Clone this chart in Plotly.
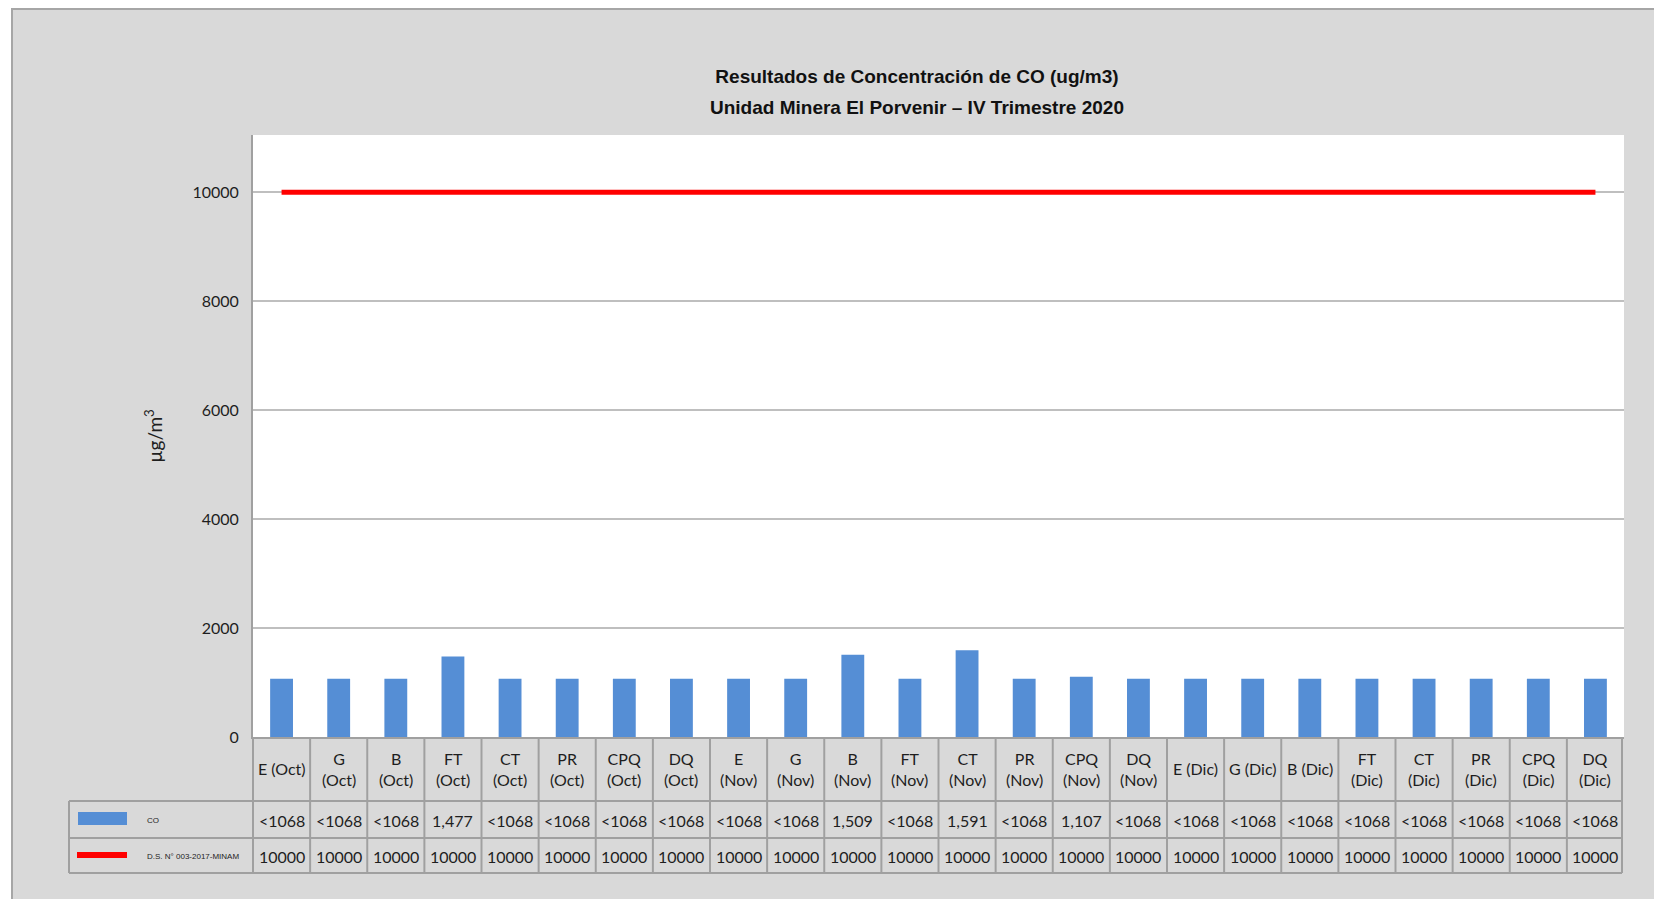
import plotly.graph_objects as go

# ---------------- data ----------------
categories = ["E (Oct)", "G (Oct)", "B (Oct)", "FT (Oct)", "CT (Oct)", "PR (Oct)", "CPQ (Oct)", "DQ (Oct)",
              "E (Nov)", "G (Nov)", "B (Nov)", "FT (Nov)", "CT (Nov)", "PR (Nov)", "CPQ (Nov)", "DQ (Nov)",
              "E (Dic)", "G (Dic)", "B (Dic)", "FT (Dic)", "CT (Dic)", "PR (Dic)", "CPQ (Dic)", "DQ (Dic)"]
header_labels = ["E (Oct)", "G<br>(Oct)", "B<br>(Oct)", "FT<br>(Oct)", "CT<br>(Oct)", "PR<br>(Oct)", "CPQ<br>(Oct)", "DQ<br>(Oct)",
                 "E<br>(Nov)", "G<br>(Nov)", "B<br>(Nov)", "FT<br>(Nov)", "CT<br>(Nov)", "PR<br>(Nov)", "CPQ<br>(Nov)", "DQ<br>(Nov)",
                 "E (Dic)", "G (Dic)", "B (Dic)", "FT<br>(Dic)", "CT<br>(Dic)", "PR<br>(Dic)", "CPQ<br>(Dic)", "DQ<br>(Dic)"]
co_labels = ["<1068", "<1068", "<1068", "1,477", "<1068", "<1068", "<1068", "<1068",
             "<1068", "<1068", "1,509", "<1068", "1,591", "<1068", "1,107", "<1068",
             "<1068", "<1068", "<1068", "<1068", "<1068", "<1068", "<1068", "<1068"]
co_values = [1068, 1068, 1068, 1477, 1068, 1068, 1068, 1068,
             1068, 1068, 1509, 1068, 1591, 1068, 1107, 1068,
             1068, 1068, 1068, 1068, 1068, 1068, 1068, 1068]
limit_values = [10000] * 24
limit_labels = ["10000"] * 24
y_ticks = [0, 2000, 4000, 6000, 8000, 10000]
series_names = ["CO", "D.S. N° 003-2017-MINAM"]
title_lines = ["Resultados de Concentración de CO (ug/m3)",
               "Unidad Minera El Porvenir – IV Trimestre 2020"]

# ---------------- layout geometry (figure pixels; page adds an 8px body margin) ----------------
W, H = 1654, 891
L, R, T, B = 245, 1616, 127, 729
PW, PH = R - L, B - T


def px(p):
    return (p - L) / PW


def py(p):
    return (B - p) / PH


BLUE = "#558ed5"
GRID = "#bfbfbf"
LINE = "#a0a0a0"
TXT = "#1e1e1e"
FONT = "Lato, Carlito, Calibri, sans-serif"
TFONT = "Liberation Sans Narrow, Arial Narrow, Liberation Sans, Arial"

fig = go.Figure()
fig.add_bar(x=categories, y=co_values, marker=dict(color=BLUE, line=dict(width=0)),
            name=series_names[0])
fig.add_scatter(x=categories, y=limit_values, mode="lines",
                line=dict(color="#ff0000", width=5), name=series_names[1])

shapes = []
# outer white strip + border of the grey chart area
shapes.append(dict(type="rect", xref="paper", yref="paper", x0=px(-5), x1=px(3), y0=py(-5), y1=py(H + 5),
                   fillcolor="white", line=dict(width=0), layer="above"))
shapes.append(dict(type="line", xref="paper", yref="paper", x0=px(4), x1=px(4), y0=py(0), y1=py(H + 5),
                   line=dict(color="#a6a6a6", width=2), layer="above"))
shapes.append(dict(type="line", xref="paper", yref="paper", x0=px(4), x1=px(W + 5), y0=py(1), y1=py(1),
                   line=dict(color="#a6a6a6", width=2), layer="above"))

# data table grid
for yy in (793, 830, 865):
    shapes.append(dict(type="line", xref="paper", yref="paper", x0=px(61), x1=px(1614), y0=py(yy), y1=py(yy),
                       line=dict(color=LINE, width=2)))
shapes.append(dict(type="line", xref="paper", yref="paper", x0=px(61), x1=px(61), y0=py(793), y1=py(865),
                   line=dict(color=LINE, width=2)))
shapes.append(dict(type="line", xref="paper", yref="paper", x0=px(245), x1=px(245), y0=py(729), y1=py(865),
                   line=dict(color=LINE, width=2)))
shapes.append(dict(type="line", xref="paper", yref="paper", x0=px(1614), x1=px(1614), y0=py(729), y1=py(865),
                   line=dict(color=LINE, width=2)))
for i in range(1, len(categories)):
    shapes.append(dict(type="line", xref="x", yref="paper", x0=i - 0.5, x1=i - 0.5, y0=py(729), y1=py(865),
                       line=dict(color=LINE, width=2)))

# legend keys in the table
shapes.append(dict(type="rect", xref="paper", yref="paper", x0=px(70), x1=px(119), y0=py(817), y1=py(804),
                   fillcolor=BLUE, line=dict(width=0)))
shapes.append(dict(type="line", xref="paper", yref="paper", x0=px(69), x1=px(119), y0=py(847), y1=py(847),
                   line=dict(color="#ff0000", width=6)))

annotations = []
for i, c in enumerate(categories):
    annotations.append(dict(x=c, y=py(761), xref="x", yref="paper", text=header_labels[i], showarrow=False,
                            xanchor="center", yanchor="middle", font=dict(family=FONT, size=16, color=TXT)))
    annotations.append(dict(x=c, y=py(812), xref="x", yref="paper", text=co_labels[i], showarrow=False,
                            xanchor="center", yanchor="middle", font=dict(family=FONT, size=16, color=TXT)))
    annotations.append(dict(x=c, y=py(848), xref="x", yref="paper", text=limit_labels[i], showarrow=False,
                            xanchor="center", yanchor="middle", font=dict(family=FONT, size=16, color=TXT)))
annotations.append(dict(x=px(137), y=py(812), xref="paper", yref="paper", text=series_names[0], showarrow=False,
                        xanchor="left", yanchor="middle", font=dict(family="Liberation Sans", size=8, color=TXT)))
annotations.append(dict(x=px(137), y=py(848), xref="paper", yref="paper", text=series_names[1], showarrow=False,
                        xanchor="left", yanchor="middle", font=dict(family="Liberation Sans", size=8, color=TXT)))
# second title line
annotations.append(dict(x=px(909), y=py(100), xref="paper", yref="paper", text="<b>" + title_lines[1] + "</b>",
                        showarrow=False, xanchor="center", yanchor="middle",
                        font=dict(family=TFONT, size=19, color="#111")))

fig.update_layout(
    width=W, height=H,
    margin=dict(l=L, r=W - R, t=T, b=H - B, pad=0),
    paper_bgcolor="#d9d9d9", plot_bgcolor="white",
    showlegend=False, bargap=0.6,
    title=dict(text="<b>" + title_lines[0] + "</b>",
               x=909 / W, xanchor="center", xref="container",
               y=1 - 68 / H, yanchor="middle", yref="container",
               font=dict(family=TFONT, size=19, color="#111")),
    xaxis=dict(type="category", range=[-0.5, len(categories) - 0.5], showticklabels=False,
               showline=True, linecolor=LINE, linewidth=2, showgrid=False, zeroline=False, ticks=""),
    yaxis=dict(range=[0, 11050], tickvals=y_ticks, tickformat="d",
               tickfont=dict(family=FONT, size=16, color=TXT),
               showgrid=True, gridcolor=GRID, gridwidth=2, showline=True, linecolor=LINE, linewidth=2,
               zeroline=False, ticks="", ticklabelstandoff=9,
               title=dict(text="µg/m<sup>3</sup>", standoff=25, font=dict(family=FONT, size=19, color=TXT))),
    shapes=shapes, annotations=annotations,
)

fig.write_html("out.html")
